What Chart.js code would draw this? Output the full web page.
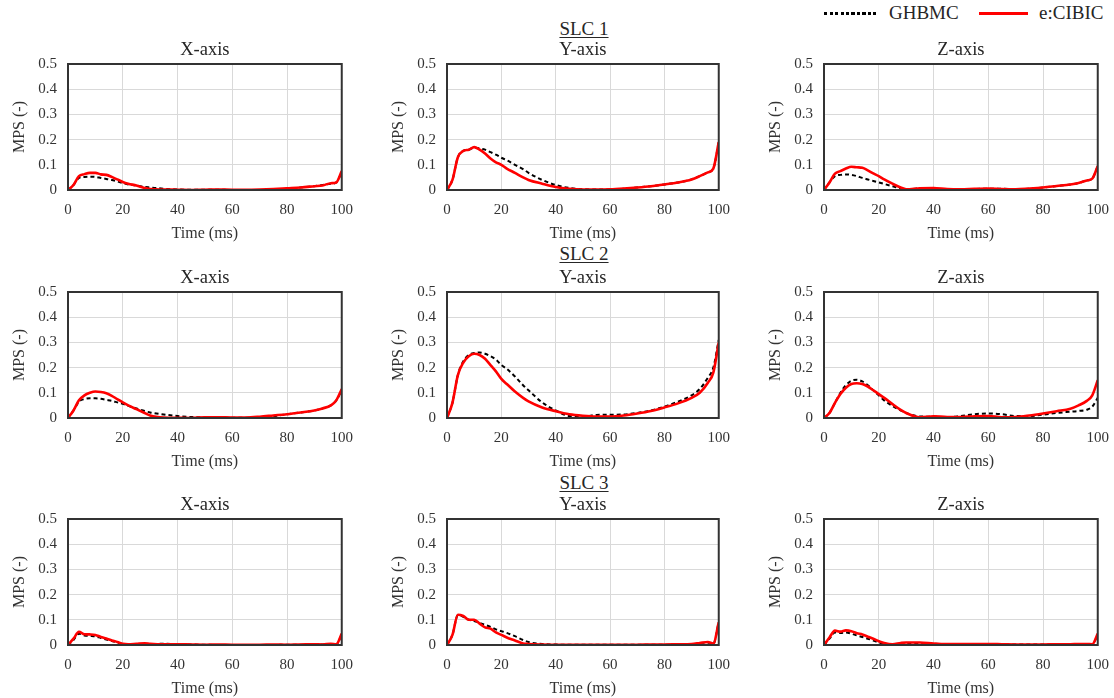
<!DOCTYPE html>
<html>
<head>
<meta charset="utf-8">
<script src="https://cdn.jsdelivr.net/npm/chart.js@4.4.1/dist/chart.umd.min.js"></script>
<style>
body{margin:0;background:#fff;width:1114px;height:698px;position:relative;overflow:hidden;font-family:"Liberation Serif",serif;}
canvas{position:absolute;}
.slc{position:absolute;left:524px;width:120px;text-align:center;font-size:19px;line-height:20px;color:#262626;text-decoration:underline;text-underline-offset:2px;}
.lg{position:absolute;font-size:19px;line-height:20px;color:#262626;top:3px;}
.dot{position:absolute;top:12px;left:824px;width:52px;height:3px;background:repeating-linear-gradient(90deg,#000 0 3px,transparent 3px 5.5px);}
.red{position:absolute;top:12px;left:979px;width:49px;height:3px;background:#f00;}
</style>
</head>
<body>
<div class="slc" style="top:19px">SLC 1</div>
<div class="slc" style="top:244px">SLC 2</div>
<div class="slc" style="top:473px">SLC 3</div>
<div class="dot"></div><div class="lg" style="left:889px">GHBMC</div>
<div class="red"></div><div class="lg" style="left:1039px">e:CIBIC</div>
<script>
"use strict";
var time = [0, 2, 4, 6, 8, 10, 12, 14, 16, 18, 20, 22, 25, 28, 30, 35, 40, 45, 50, 55, 60, 65, 70, 75, 80, 85, 90, 93, 96, 98, 100];
var xTicks = [0, 20, 40, 60, 80, 100];
var yTicks = [0, 0.1, 0.2, 0.3, 0.4, 0.5];
var axisNames = ["X-axis", "Y-axis", "Z-axis"];

var slc1X_ghbmc = [0, .02, .048, .052, .053, .052, .048, .044, .04, .034, .028, .022, .018, .012, .01, .005, .002, .001, .001, .001, 0, 0, 0, .001, .005, .01, .015, .02, .025, .03, .07];
var slc1X_ecibic = [0, .02, .055, .063, .068, .068, .062, .06, .052, .042, .032, .025, .018, .008, .004, .002, .001, 0, .001, .002, .001, .001, .002, .004, .007, .01, .015, .018, .027, .03, .075];
var slc1Y_ghbmc = [0, .04, .13, .155, .16, .168, .165, .16, .15, .14, .128, .118, .1, .083, .068, .04, .02, .008, .003, .002, .002, .005, .01, .015, .022, .03, .042, .055, .07, .085, .19];
var slc1Y_ecibic = [0, .04, .13, .155, .16, .17, .16, .145, .125, .11, .1, .085, .068, .05, .04, .025, .012, .005, .002, .002, .003, .006, .01, .015, .022, .03, .042, .055, .07, .085, .19];
var slc1Z_ghbmc = [0, .03, .055, .06, .062, .06, .055, .048, .042, .036, .03, .024, .015, .006, .002, .006, .005, .003, .002, .004, .005, .005, .003, .005, .01, .016, .022, .028, .038, .045, .095];
var slc1Z_ecibic = [0, .03, .065, .075, .085, .092, .09, .088, .078, .066, .055, .042, .025, .01, .003, .007, .008, .004, .003, .005, .006, .004, .003, .006, .01, .016, .022, .028, .038, .045, .095];

var slc2X_ghbmc = [0, .03, .065, .075, .078, .078, .076, .072, .068, .062, .056, .048, .038, .028, .022, .014, .008, .004, .002, .001, .001, .001, .002, .007, .015, .022, .03, .038, .05, .07, .11];
var slc2X_ecibic = [0, .03, .07, .09, .1, .105, .103, .098, .088, .075, .062, .05, .035, .02, .01, .002, .001, 0, .003, .003, .002, .002, .005, .01, .015, .022, .03, .038, .05, .07, .115];
var slc2Y_ghbmc = [0, .06, .17, .225, .25, .258, .26, .255, .245, .232, .21, .195, .165, .13, .11, .062, .03, .008, .006, .012, .013, .014, .02, .03, .045, .065, .09, .115, .16, .2, .31];
var slc2Y_ecibic = [0, .06, .17, .22, .245, .255, .25, .235, .21, .185, .155, .135, .105, .08, .066, .042, .027, .015, .009, .006, .006, .01, .018, .028, .042, .058, .08, .1, .14, .18, .3];
var slc2Z_ghbmc = [0, .02, .06, .1, .13, .148, .152, .145, .13, .11, .09, .07, .048, .03, .02, .006, .005, .003, .008, .015, .018, .015, .008, .008, .013, .02, .025, .028, .033, .045, .08];
var slc2Z_ecibic = [0, .02, .06, .095, .12, .135, .138, .135, .125, .11, .095, .08, .055, .032, .02, .003, .007, .004, .004, .007, .008, .003, .004, .01, .018, .027, .037, .05, .068, .09, .15];

var slc3X_ghbmc = [0, .02, .045, .038, .036, .034, .028, .022, .016, .01, .004, .002, .003, .004, .004, .005, .003, .002, .001, 0, 0, 0, 0, 0, .001, .001, .002, .002, .003, .003, .04];
var slc3X_ecibic = [0, .025, .052, .043, .042, .04, .032, .026, .018, .012, .005, .003, .005, .007, .005, .003, .003, .002, .001, .002, .001, .001, .001, .002, .001, .002, .003, .002, .005, .003, .045];
var slc3Y_ghbmc = [0, .04, .118, .112, .1, .095, .088, .08, .072, .062, .055, .048, .035, .02, .012, .004, .002, .001, .001, .001, .001, .001, .001, .001, .001, .002, .002, .003, .003, .004, .09];
var slc3Y_ecibic = [0, .04, .12, .115, .1, .1, .085, .07, .065, .05, .04, .03, .018, .006, .004, .002, .001, .001, .001, .001, .001, .001, .001, .002, .002, .003, .004, .008, .012, .006, .09];
var slc3Z_ghbmc = [0, .025, .05, .048, .05, .045, .038, .032, .025, .018, .01, .005, .002, .004, .006, .006, .005, .003, .004, .004, .004, .003, .002, .002, .002, .002, .003, .003, .003, .003, .04];
var slc3Z_ecibic = [0, .03, .057, .053, .058, .055, .047, .042, .033, .025, .015, .008, .003, .008, .01, .01, .006, .004, .004, .004, .004, .003, .002, .002, .002, .003, .003, .004, .004, .003, .045];

var series = [
    [[slc1X_ghbmc, slc1X_ecibic], [slc1Y_ghbmc, slc1Y_ecibic], [slc1Z_ghbmc, slc1Z_ecibic]],
    [[slc2X_ghbmc, slc2X_ecibic], [slc2Y_ghbmc, slc2Y_ecibic], [slc2Z_ghbmc, slc2Z_ecibic]],
    [[slc3X_ghbmc, slc3X_ecibic], [slc3Y_ghbmc, slc3Y_ecibic], [slc3Z_ghbmc, slc3Z_ecibic]]
];

var colLeft = [0, 379, 756], colPlotW = [274, 272, 274];
var rowTop = [32, 260, 487], plotH = 126;
var FONT = "'Liberation Serif', serif";

// frame around the plot + panel title centred over the plot area
var frame = {
    id: "frame",
    afterDatasetsDraw: function(c, args, o) {
        var a = c.chartArea, ctx = c.ctx;
        ctx.save();
        ctx.strokeStyle = "#333";
        ctx.lineWidth = 2;
        ctx.strokeRect(a.left, a.top, a.right - a.left, a.bottom - a.top);
        ctx.fillStyle = "#262626";
        ctx.font = "18.5px " + FONT;
        ctx.textAlign = "center";
        ctx.textBaseline = "middle";
        ctx.fillText(o.text, (a.left + a.right) / 2, a.top - 14);
        ctx.restore();
    }
};

function pts(ys) {
    return time.map(function(t, i) { return {x: t, y: ys[i]}; });
}

function panel(r, k) {
    var cv = document.createElement("canvas");
    var w = 68 + colPlotW[k] + 22, h = 32 + plotH + 56;
    cv.width = w; cv.height = h;
    cv.style.left = colLeft[k] + "px";
    cv.style.top = rowTop[r] + "px";
    document.body.appendChild(cv);
    var d = series[r][k];
    new Chart(cv, {
        type: "line",
        data: {
            datasets: [{
                label: "GHBMC", data: pts(d[0]), borderColor: "#000", borderWidth: 2,
                borderDash: [4, 3], order: 2
            }, {
                label: "e:CIBIC", data: pts(d[1]), borderColor: "#f00", borderWidth: 2.6, order: 1
            }]
        },
        options: {
            responsive: false, animation: false,
            elements: {point: {radius: 0}, line: {cubicInterpolationMode: "monotone"}},
            layout: {padding: {top: 32, right: 16, bottom: 0, left: 0}},
            plugins: {
                legend: {display: false}, tooltip: {enabled: false}, title: {display: false},
                frame: {text: axisNames[k]}
            },
            scales: {
                x: {
                    type: "linear", min: 0, max: 100,
                    afterBuildTicks: function(s) { s.ticks = xTicks.map(function(v) { return {value: v}; }); },
                    afterFit: function(s) { s.height = 56; },
                    ticks: {color: "#333", font: {family: FONT, size: 15}, padding: 11, maxRotation: 0},
                    grid: {color: "#d9d9d9", drawTicks: false},
                    border: {display: false},
                    title: {display: true, text: "Time (ms)", color: "#333",
                        font: {family: FONT, size: 16}, padding: {top: 0, bottom: 3}}
                },
                y: {
                    min: 0, max: 0.5,
                    afterBuildTicks: function(s) { s.ticks = yTicks.map(function(v) { return {value: v}; }); },
                    afterFit: function(s) { s.width = 68; },
                    ticks: {color: "#333", font: {family: FONT, size: 15}, padding: 11,
                        callback: function(v) { return String(+v.toFixed(1)); }},
                    grid: {color: "#d9d9d9", drawTicks: false},
                    border: {display: false},
                    title: {display: true, text: "MPS (-)", color: "#333",
                        font: {family: FONT, size: 16}, padding: {top: 10.4, bottom: 0}}
                }
            }
        },
        plugins: [frame]
    });
}

for (var r = 0; r < 3; r++) for (var k = 0; k < 3; k++) panel(r, k);
</script>
</body>
</html>
